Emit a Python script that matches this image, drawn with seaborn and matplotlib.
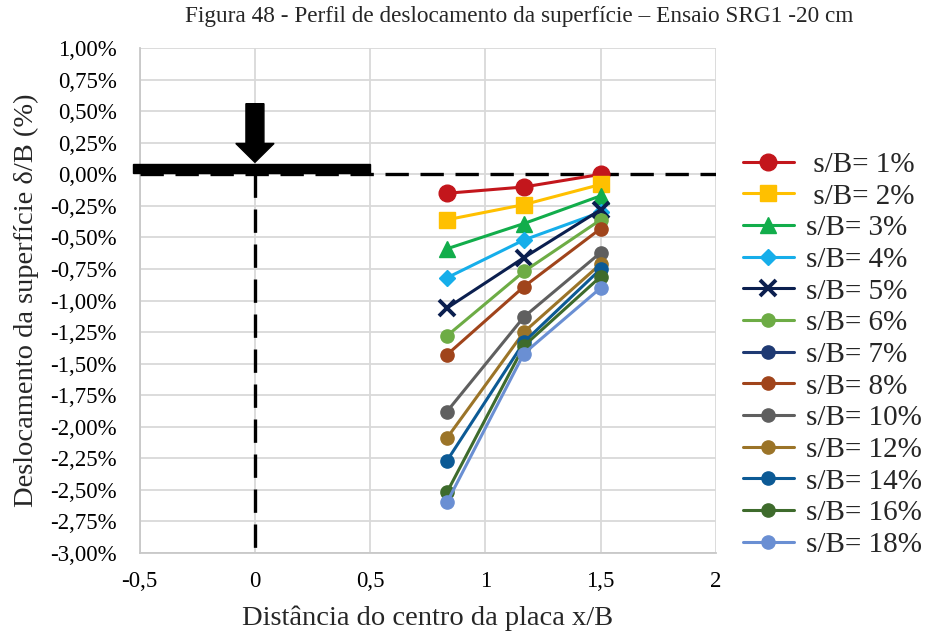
import numpy as np
import pandas as pd
import seaborn as sns
import matplotlib
matplotlib.use("Agg")
import matplotlib.pyplot as plt
from matplotlib.patches import Rectangle, Polygon

# Normalised distance from plate centre (x/B)
x_pos = [0.833, 1.167, 1.5]

# Surface displacement δ/B (%) for each settlement level s/B
labels = [" s/B= 1%", " s/B= 2%", "s/B= 3%", "s/B= 4%", "s/B= 5%", "s/B= 6%",
          "s/B= 7%", "s/B= 8%", "s/B= 10%", "s/B= 12%", "s/B= 14%", "s/B= 16%",
          "s/B= 18%"]
sb_01 = [-0.15, -0.10, 0.00]
sb_02 = [-0.36, -0.24, -0.08]
sb_03 = [-0.59, -0.39, -0.17]
sb_04 = [-0.82, -0.52, -0.30]
sb_05 = [-1.06, -0.66, -0.28]
sb_06 = [-1.28, -0.77, -0.36]
sb_07 = [np.nan, np.nan, np.nan]
sb_08 = [-1.43, -0.89, -0.43]
sb_10 = [-1.88, -1.13, -0.62]
sb_12 = [-2.09, -1.25, -0.71]
sb_14 = [-2.27, -1.33, -0.75]
sb_16 = [-2.52, -1.36, -0.81]
sb_18 = [-2.60, -1.42, -0.90]
series = [sb_01, sb_02, sb_03, sb_04, sb_05, sb_06, sb_07, sb_08,
          sb_10, sb_12, sb_14, sb_16, sb_18]

colors = ["#C3161C", "#FFC000", "#12AD4B", "#16AEEA", "#0B1F4F", "#6DAC45",
          "#1F3A73", "#A0441B", "#5F5F5F", "#9B7428", "#0C5A95", "#3E6B2C",
          "#6A8FD3"]
markers = ["o", "s", "^", "D", "x", "o", "o", "o", "o", "o", "o", "o", "o"]
msizes = [12, 11.5, 11.5, 8.5, 12, 9.5, 9.5, 9.5, 9.5, 9.5, 9.5, 9.5, 9.5]

y_ticks = [1.0 - 0.25 * i for i in range(17)]
x_ticks = [-0.5, 0, 0.5, 1, 1.5, 2]
x_tick_labels = ["-0,5", "0", "0,5", "1", "1,5", "2"]

sns.set_theme(style="white")
plt.rcParams["font.family"] = ["Liberation Serif", "DejaVu Serif"]

fig = plt.figure(figsize=(9.25, 6.34), dpi=100)
ax = fig.add_axes([0.151, 0.128, 0.623, 0.796])

handles = []
for ys, lab, c, m, ms in zip(series, labels, colors, markers, msizes):
    df = pd.DataFrame({"x": x_pos, "y": ys})
    mew = 2.8 if m == "x" else 1.0
    if df["y"].notna().any():
        sns.lineplot(data=df, x="x", y="y", ax=ax, color=c, marker=m,
                     markersize=ms, markeredgecolor=c, markeredgewidth=mew,
                     linewidth=2.2, sort=False, label=lab, zorder=5)
        h = ax.get_lines()[-1]
    else:
        h, = ax.plot(df["x"], df["y"], color=c, marker=m, markersize=ms,
                     markeredgecolor=c, linewidth=2.2, label=lab)
    handles.append(h)

# Reference line at the surface and plate axis
ax.plot([-0.5, 2.0], [0, 0], color="black", lw=2.4, ls=(0, (7, 3.5)), zorder=3)
ax.plot([0, 0], [0, -3.0], color="black", lw=2.4, ls=(0, (7, 3.5)), zorder=3)

# Loading plate and load arrow
ax.add_patch(Rectangle((-0.53, 0.008), 1.03, 0.074, color="black",
                       zorder=4, clip_on=False))
arrow = [(-0.039, 0.56), (0.039, 0.56), (0.039, 0.245), (0.083, 0.245),
         (0.0, 0.095), (-0.083, 0.245), (-0.039, 0.245)]
ax.add_patch(Polygon(arrow, closed=True, color="black", zorder=4))

ax.set_xlim(-0.5, 2.0)
ax.set_ylim(-3.0, 1.0)
ax.set_xticks(x_ticks)
ax.set_xticklabels(x_tick_labels)
ax.set_yticks(y_ticks)
ax.set_yticklabels([(f"{v:.2f}".replace(".", ",") + "%").replace("-0,00", "0,00")
                    for v in y_ticks])
ax.grid(True, color="#D9D9D9", lw=1.3)
for s in ["top", "right"]:
    ax.spines[s].set_visible(False)
for s in ["left", "bottom"]:
    ax.spines[s].set_color("#C8C8C8")
    ax.spines[s].set_linewidth(1.3)
ax.tick_params(axis="both", direction="out", length=6, width=1.3,
               color="#C8C8C8", labelsize=16.5, labelcolor="black")
ax.tick_params(axis="y", pad=10.5)
ax.tick_params(axis="x", pad=7)

ax.set_xlabel("Distância do centro da placa x/B", fontsize=20.5, labelpad=10)
ax.set_ylabel("Deslocamento da superfície δ/B (%)", fontsize=20.5, labelpad=8)
fig.suptitle("Figura 48 - Perfil de deslocamento da superfície – Ensaio SRG1 -20 cm",
             x=0.561, y=0.99, va="top", fontsize=16.75)

leg = ax.get_legend()
if leg is not None:
    leg.remove()
fig.legend(handles, labels, loc="upper left", bbox_to_anchor=(0.803, 0.761),
           frameon=False, fontsize=21, handlelength=1.75, handletextpad=0.42,
           labelspacing=0.18, borderpad=0, borderaxespad=0)

fig.savefig("out.png", dpi=100)
